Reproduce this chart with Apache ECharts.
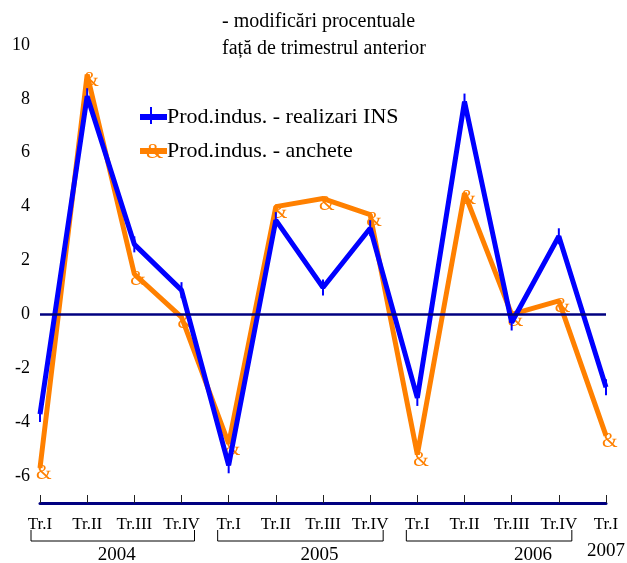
<!DOCTYPE html>
<html><head><meta charset="utf-8">
<script src="https://cdn.jsdelivr.net/npm/echarts@6/dist/echarts.min.js"></script>
<style>html,body{margin:0;padding:0;background:#fff}#c{width:627px;height:563px}</style>
</head><body><div id="c"></div>
<script>
var categories = ['Tr.I','Tr.II','Tr.III','Tr.IV','Tr.I','Tr.II','Tr.III','Tr.IV','Tr.I','Tr.II','Tr.III','Tr.IV','Tr.I'];
var years = [{label:'2004', from:0, to:3}, {label:'2005', from:4, to:7}, {label:'2006', from:8, to:11}, {label:'2007', from:12, to:12}];
var realizariINS = [-3.7, 8.1, 2.6, 0.9, -5.6, 3.5, 1.0, 3.2, -3.1, 7.9, -0.3, 2.9, -2.7];
var anchete = [-5.7, 8.9, 1.5, -0.1, -4.8, 4.0, 4.3, 3.7, -5.2, 4.5, 0.0, 0.5, -4.5];
var seriesNames = ['Prod.indus. - realizari INS', 'Prod.indus. - anchete'];

var FONT = '"Liberation Serif", "DejaVu Serif", serif';
var BLUE = '#0000FF', ORANGE = '#FF8000', NAVY = '#000080';
var chart = echarts.init(document.getElementById('c'), null, {renderer:'canvas'});
var option = {
  animation: false,
  backgroundColor: '#fff',
  grid: {left: 40, right: 21, top: 45, bottom: 60, containLabel: false},
  legend: {
    orient: 'vertical', left: 135, top: 101, itemGap: 12,
    icon: 'rect', itemWidth: 27, itemHeight: 6,
    textStyle: {fontFamily: FONT, fontSize: 22, color: '#000', padding: [0,0,0,-5]},
    data: seriesNames
  },
  xAxis: {
    type: 'category', data: categories, boundaryGap: false,
    axisLine: {onZero: false, lineStyle: {color: NAVY, width: 3}},
    axisTick: {inside: true, length: 8, alignWithLabel: true, interval: 0, lineStyle: {color: '#222', width: 1}},
    axisLabel: {interval: 0, margin: 13, fontFamily: FONT, fontSize: 17, color: '#000'},
    splitLine: {show: false}
  },
  yAxis: {
    type: 'value', min: -7, max: 10, interval: 1,
    axisLine: {show: false}, axisTick: {show: false}, splitLine: {show: false},
    axisLabel: {margin: 10, fontFamily: FONT, fontSize: 18, color: '#000',
      formatter: function(v){ return (v % 2 === 0) ? String(v) : ''; }}
  },
  series: [
    {
      name: seriesNames[1], type: 'line', data: anchete, z: 2,
      lineStyle: {color: ORANGE, width: 5}, itemStyle: {color: ORANGE},
      symbol: 'circle', symbolSize: 2, showSymbol: true,
      label: {show: true, formatter: '&', position: 'right', distance: 0, offset: [-5, 6],
        fontFamily: FONT, fontSize: 20, color: ORANGE}
    },
    {
      name: seriesNames[0], type: 'line', data: realizariINS, z: 3,
      lineStyle: {color: BLUE, width: 5}, itemStyle: {color: BLUE},
      symbol: 'rect', symbolSize: [2, 16], showSymbol: true,
      markLine: {silent: true, symbol: 'none', label: {show: false},
        lineStyle: {color: NAVY, width: 2.5, type: 'solid'}, data: [{yAxis: 0}]}
    }
  ]
};
chart.setOption(option);

// title text, legend marker glyphs, year brackets
var g = [
  {type: 'text', left: 222, top: 12, style: {text: '- modificări procentuale', font: '20px ' + FONT, fill: '#000'}},
  {type: 'text', left: 222, top: 39, style: {text: 'față de trimestrul anterior', font: '20px ' + FONT, fill: '#000'}},
  {type: 'rect', shape: {x: 150, y: 107, width: 2, height: 17}, style: {fill: BLUE}, z: 100},
  {type: 'text', x: 146, y: 152, style: {text: '&', font: '22px ' + FONT, fill: ORANGE, verticalAlign: 'middle'}, z: 100}
];
var yearLabelDx = [6, 20, 45, 0];
years.forEach(function(y, i){
  var x0 = chart.convertToPixel({xAxisIndex:0}, y.from);
  var x1 = chart.convertToPixel({xAxisIndex:0}, y.to);
  if (y.from !== y.to) {
    var l = x0 - (i === 0 ? 9 : 11), r = x1 + 13;
    g.push({type: 'polyline', shape: {points: [[l, 530], [l, 541], [r, 541], [r, 530]]},
      style: {stroke: '#000', lineWidth: 1, fill: null}});
    g.push({type: 'text', x: (x0 + x1) / 2 + yearLabelDx[i], y: 555,
      style: {text: y.label, font: '19px ' + FONT, fill: '#000', align: 'center', verticalAlign: 'middle'}});
  } else {
    g.push({type: 'text', x: x0, y: 551,
      style: {text: y.label, font: '19px ' + FONT, fill: '#000', align: 'center', verticalAlign: 'middle'}});
  }
});
chart.setOption({graphic: g});
</script></body></html>
